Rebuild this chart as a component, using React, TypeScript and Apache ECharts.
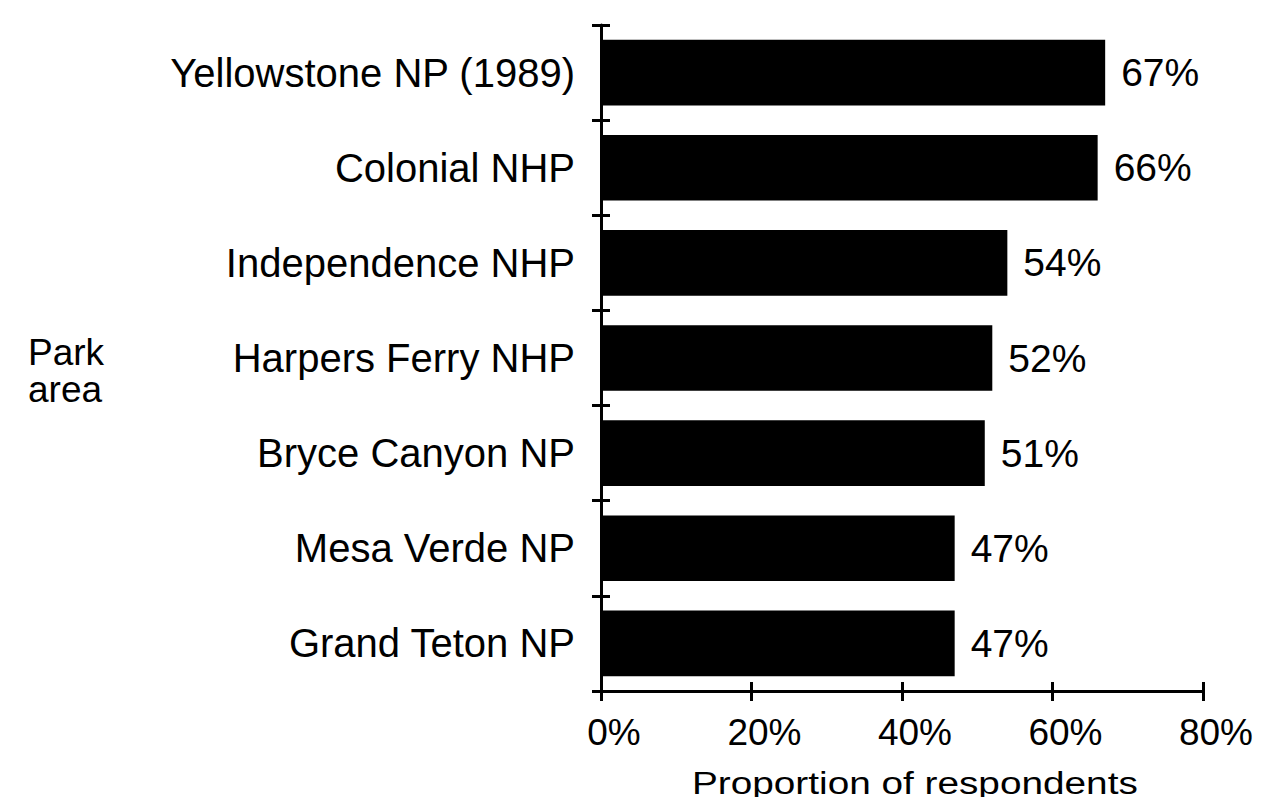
import React, { useEffect, useRef } from "react";
import * as echarts from "echarts";

const categories = [
  "Yellowstone NP (1989)",
  "Colonial NHP",
  "Independence NHP",
  "Harpers Ferry NHP",
  "Bryce Canyon NP",
  "Mesa Verde NP",
  "Grand Teton NP",
];
const values = [67, 66, 54, 52, 51, 47, 47];
const xTicks = [0, 20, 40, 60, 80];
const xTitle = "Proportion of respondents";
const yTitle = "Park\narea";

const FONT = "'Liberation Sans', Arial, Helvetica, sans-serif";

export default function App() {
  const ref = useRef<HTMLDivElement>(null);
  useEffect(() => {
    if (!ref.current) return;
    const chart = echarts.init(ref.current, null, { renderer: "svg" });
    const lineStyle = { color: "#000", width: 3 };
    const tickStyle = { color: "#000", width: 3 };
    const xCommon = {
      type: "value",
      min: xTicks[0],
      max: xTicks[xTicks.length - 1],
      interval: xTicks[1] - xTicks[0],
      position: "bottom",
      splitLine: { show: false },
    };
    const yCommon = {
      type: "category",
      data: categories,
      inverse: true,
      position: "left",
      splitLine: { show: false },
    };
    chart.setOption({
      animation: false,
      backgroundColor: "#fff",
      textStyle: { fontFamily: FONT, color: "#000" },
      grid: {
        left: 601,
        right: 81,
        top: 25,
        bottom: 114,
        containLabel: false,
        outerBoundsMode: "none",
      },
      xAxis: [
        {
          ...xCommon,
          axisLine: { show: true, lineStyle },
          axisTick: { show: true, length: 10, inside: false, lineStyle: tickStyle },
          axisLabel: {
            show: true,
            formatter: "{value}%",
            fontSize: 37,
            fontFamily: FONT,
            color: "#000",
            margin: 23,
            padding: [0, 0, 0, 26],
          },
        },
        {
          ...xCommon,
          show: true,
          axisLine: { show: false },
          axisTick: { show: true, length: 9, inside: true, lineStyle: tickStyle },
          axisLabel: { show: false },
        },
      ],
      yAxis: [
        {
          ...yCommon,
          axisLine: { show: true, lineStyle },
          axisTick: { show: true, length: 9, inside: false, lineStyle: tickStyle },
          axisLabel: {
            show: true,
            fontSize: 40,
            fontFamily: FONT,
            color: "#000",
            margin: 26,
          },
        },
        {
          ...yCommon,
          show: true,
          axisLine: { show: false },
          axisTick: { show: true, length: 9, inside: true, lineStyle: tickStyle },
          axisLabel: { show: false },
        },
      ],
      graphic: [
        {
          type: "text",
          left: 28,
          top: 334,
          style: {
            text: yTitle,
            fontSize: 37,
            lineHeight: 37,
            fontFamily: FONT,
            fill: "#000",
          },
        },
        {
          type: "text",
          x: 692,
          y: 783,
          scaleX: 1.25,
          scaleY: 1,
          style: {
            text: xTitle,
            x: 0,
            y: 0,
            fontSize: 31,
            fontFamily: FONT,
            fill: "#000",
            align: "left",
            verticalAlign: "middle",
          },
        },
      ],
      series: [
        {
          type: "bar",
          data: values,
          xAxisIndex: 0,
          yAxisIndex: 0,
          barCategoryGap: "31%",
          itemStyle: { color: "#000" },
          label: {
            show: true,
            position: "right",
            distance: 16,
            formatter: "{c}%",
            fontSize: 39,
            fontFamily: FONT,
            color: "#000",
          },
        },
      ],
    });
    return () => chart.dispose();
  }, []);
  return <div ref={ref} style={{ width: 1284, height: 805, margin: -8 }} />;
}
